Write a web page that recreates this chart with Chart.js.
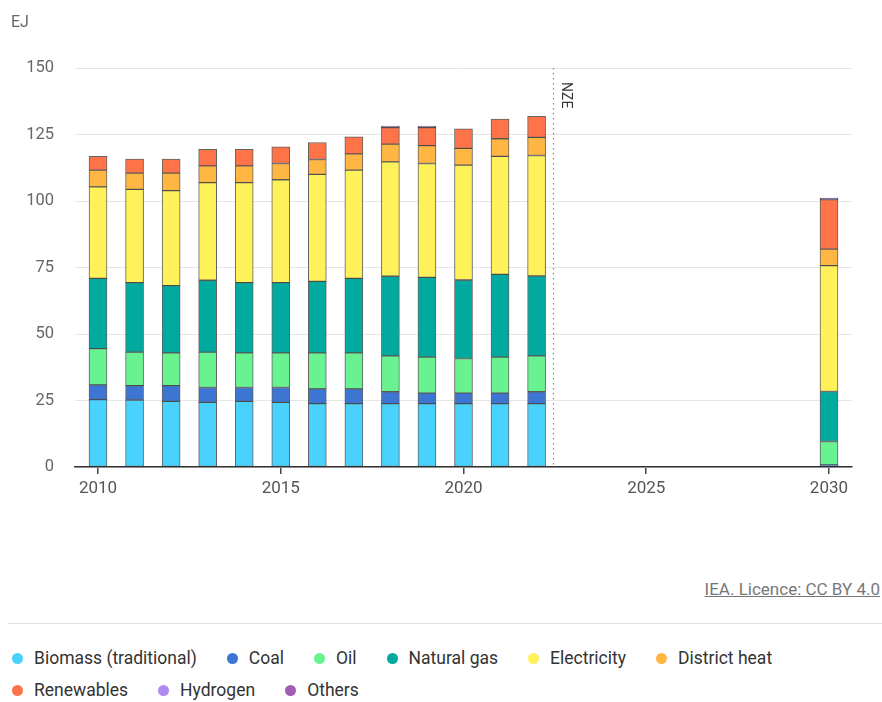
<!DOCTYPE html>
<html>
<head>
<meta charset="utf-8">
<script src="https://cdn.jsdelivr.net/npm/chart.js@4/dist/chart.umd.min.js"></script>
<style>
  body { margin: 0; background: #fff; font-family: 'Roboto', sans-serif; }
  #wrap { position: relative; width: 882px; height: 702px; overflow: hidden; }
  #plot { position: absolute; left: 0; top: 0; width: 882px; height: 520px; }
  #unit { position: absolute; left: 11px; top: 12px; font-size: 16px; color: #666; }
  #credit { position: absolute; right: 2px; top: 579px; font-size: 17px; color: #777; text-decoration: underline; }
  #sep { position: absolute; left: 8px; right: 0; top: 623px; border-top: 1px solid #e2e2e2; }
  #legend { position: absolute; left: 12px; top: 642px; width: 870px; display: flex; flex-wrap: wrap; }
  .item { display: flex; align-items: center; margin-right: 30px; font-size: 17.5px; color: #333; height: 32px; }
  .dot { width: 11px; height: 11px; border-radius: 50%; margin-right: 11px; }
</style>
</head>
<body>
<div id="wrap">
  <div id="plot"><canvas id="chart"></canvas></div>
  <span id="unit">EJ</span>
  <span id="credit">IEA. Licence: CC BY 4.0</span>
  <div id="sep"></div>
  <div id="legend"></div>
</div>
<script>
// years on the x axis (2030 = NZE scenario)
const years = [2010, 2011, 2012, 2013, 2014, 2015, 2016, 2017, 2018, 2019, 2020, 2021, 2022, 2030];
const xTicks = [2010, 2015, 2020, 2025, 2030];
const yTicks = [0, 25, 50, 75, 100, 125, 150];
const nzeYear = 2022.45;

// values in EJ
const biomass     = [25.3, 25.2, 24.7, 24.3, 24.7, 24.3, 23.8, 23.8, 23.8, 23.8, 23.8, 23.8, 23.8, null];
const coal        = [5.6, 5.4, 5.9, 5.6, 5.2, 5.6, 5.6, 5.6, 4.5, 4.0, 4.0, 4.0, 4.5, 0.8];
const oil         = [13.6, 12.6, 12.3, 13.3, 13.0, 13.0, 13.5, 13.5, 13.5, 13.5, 13.0, 13.5, 13.5, 8.8];
const naturalGas  = [26.4, 26.1, 25.3, 27.0, 26.4, 26.4, 26.9, 28.0, 29.9, 30.0, 29.5, 31.1, 30.0, 18.8];
const electricity = [34.4, 35.1, 35.7, 36.7, 37.6, 38.7, 40.2, 40.7, 43.0, 42.8, 43.2, 44.4, 45.3, 47.3];
const districtHeat= [6.3, 6.1, 6.6, 6.3, 6.3, 6.1, 5.6, 6.1, 6.7, 6.7, 6.3, 6.6, 6.8, 6.2];
const renewables  = [5.2, 5.3, 5.3, 6.2, 6.2, 6.3, 6.4, 6.4, 6.2, 6.8, 7.3, 7.4, 7.9, 18.6];
const hydrogen    = [null, null, null, null, null, null, null, null, null, null, null, null, null, 0.3];
const others      = [null, null, null, null, null, null, null, null, 0.6, 0.6, null, null, null, 0.3];

const seriesNames  = ['Biomass (traditional)', 'Coal', 'Oil', 'Natural gas', 'Electricity', 'District heat', 'Renewables', 'Hydrogen', 'Others'];
const seriesValues = [biomass, coal, oil, naturalGas, electricity, districtHeat, renewables, hydrogen, others];
const seriesColors = ['#48d2fd', '#3d76d2', '#69f290', '#00aa9e', '#fff159', '#ffb643', '#ff7349', '#b088f2', '#a55cb4'];

const datasets = seriesNames.map((name, i) => ({
    label: name,
    data: years.map((yr, j) => ({ x: yr, y: seriesValues[i][j] })),
    backgroundColor: seriesColors[i],
    borderColor: 'rgba(45,45,45,0.75)',
    borderWidth: 1,
    borderSkipped: false,
    barThickness: 18
}));

// dotted NZE divider
const nzeLine = {
    id: 'nzeLine',
    afterDatasetsDraw(chart) {
        const { ctx, chartArea, scales } = chart;
        const x = Math.round(scales.x.getPixelForValue(nzeYear)) + 0.5;
        ctx.save();
        ctx.strokeStyle = '#8a8a8a';
        ctx.lineWidth = 1.2;
        ctx.setLineDash([1.5, 3.5]);
        ctx.beginPath();
        ctx.moveTo(x, chartArea.top);
        ctx.lineTo(x, chartArea.bottom);
        ctx.stroke();
        ctx.translate(x + 12, chartArea.top + 14);
        ctx.rotate(Math.PI / 2);
        ctx.fillStyle = '#333';
        ctx.font = "14px 'Roboto', sans-serif";
        ctx.textAlign = 'left';
        ctx.textBaseline = 'middle';
        ctx.fillText('NZE', 0, 0);
        ctx.restore();
    }
};

new Chart(document.getElementById('chart'), {
    type: 'bar',
    data: { datasets },
    options: {
        responsive: true,
        maintainAspectRatio: false,
        animation: false,
        layout: { padding: { left: 0, right: 30, top: 68, bottom: 0 } },
        plugins: {
            legend: { display: false },
            tooltip: { enabled: false }
        },
        scales: {
            x: {
                type: 'linear',
                stacked: true,
                offset: false,
                min: 2009.37,
                max: 2030.63,
                afterBuildTicks: s => { s.ticks = xTicks.map(v => ({ value: v })); },
                afterFit: s => { s.height = 53; },
                grid: { offset: false, drawOnChartArea: false, drawTicks: true, tickLength: 7, color: '#444', lineWidth: 1.5 },
                border: { display: true, color: '#333', width: 1.5 },
                ticks: {
                    padding: 5,
                    color: '#555',
                    font: { family: "'Roboto', sans-serif", size: 17 },
                    callback: v => String(v)
                }
            },
            y: {
                stacked: true,
                min: 0,
                max: 150,
                afterBuildTicks: s => { s.ticks = yTicks.map(v => ({ value: v })); },
                afterFit: s => { s.width = 75; },
                grid: { color: '#e6e6e6', drawTicks: false },
                border: { display: false },
                ticks: {
                    padding: 21,
                    color: '#666',
                    font: { family: "'Roboto', sans-serif", size: 16.5 }
                }
            }
        }
    },
    plugins: [nzeLine]
});

// legend built from the same series
const legendBox = document.getElementById('legend');
seriesNames.forEach((name, i) => {
    const item = document.createElement('div');
    item.className = 'item';
    item.innerHTML = `<span class="dot" style="background:${seriesColors[i]}"></span>${name}`;
    legendBox.appendChild(item);
    if (i === 5) {
        const br = document.createElement('div');
        br.style.flexBasis = '100%';
        br.style.height = '0';
        legendBox.appendChild(br);
    }
});
</script>
</body>
</html>
